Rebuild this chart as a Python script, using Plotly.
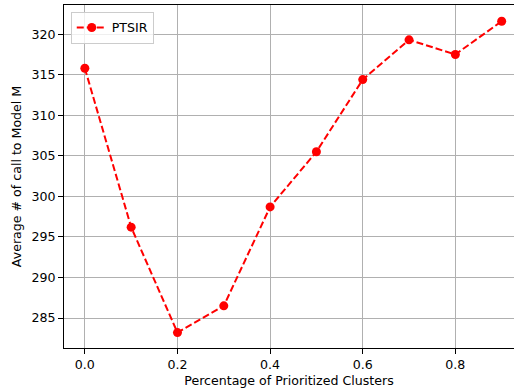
import plotly.graph_objects as go

x_vals = [0.0, 0.1, 0.2, 0.3, 0.4, 0.5, 0.6, 0.7, 0.8, 0.9]
y_vals = [315.8, 296.2, 283.2, 286.5, 298.7, 305.5, 314.4, 319.3, 317.5, 321.6]
series_name = "PTSIR"
x_ticks = [0.0, 0.2, 0.4, 0.6, 0.8]
x_tick_labels = ["0.0", "0.2", "0.4", "0.6", "0.8"]
y_ticks = [285, 290, 295, 300, 305, 310, 315, 320]

fig = go.Figure()
fig.add_trace(go.Scatter(
    x=x_vals, y=y_vals, mode="lines+markers", name=series_name,
    line=dict(color="red", width=2, dash="7px,3px"),
    marker=dict(color="red", size=9),
))

fsize = 12.6
font = dict(family="DejaVu Sans", size=fsize, color="black")
fig.update_layout(
    width=514, height=389,
    margin=dict(l=64, r=0, t=5, b=41),
    paper_bgcolor="white", plot_bgcolor="white",
    font=font,
    showlegend=True,
    legend=dict(x=0.015, y=0.98, xanchor="left", yanchor="top",
                bgcolor="rgba(255,255,255,0.8)", bordercolor="#cccccc", borderwidth=1,
                font=dict(family="DejaVu Sans", size=fsize, color="black"),
                itemwidth=30, tracegroupgap=0),
    xaxis=dict(
        range=[-0.045, 0.9266], tickvals=x_ticks, ticktext=x_tick_labels,
        showgrid=True, gridcolor="#b0b0b0", gridwidth=1,
        showline=True, linecolor="black", linewidth=1, mirror=True,
        ticks="outside", ticklen=5, tickcolor="black", zeroline=False,
        tickfont=dict(family="DejaVu Sans", size=fsize, color="black"),
        title=dict(text="Percentage of Prioritized Clusters", standoff=5,
                   font=dict(family="DejaVu Sans", size=fsize, color="black")),
    ),
    yaxis=dict(
        range=[281.3, 323.6], tickvals=y_ticks,
        showgrid=True, gridcolor="#b0b0b0", gridwidth=1,
        showline=True, linecolor="black", linewidth=1, mirror=False,
        ticks="outside", ticklen=5, tickcolor="black", zeroline=False,
        tickfont=dict(family="DejaVu Sans", size=fsize, color="black"),
        title=dict(text="Average # of call to Model M", standoff=7,
                   font=dict(family="DejaVu Sans", size=fsize, color="black")),
    ),
)
fig.write_html("out.html")
